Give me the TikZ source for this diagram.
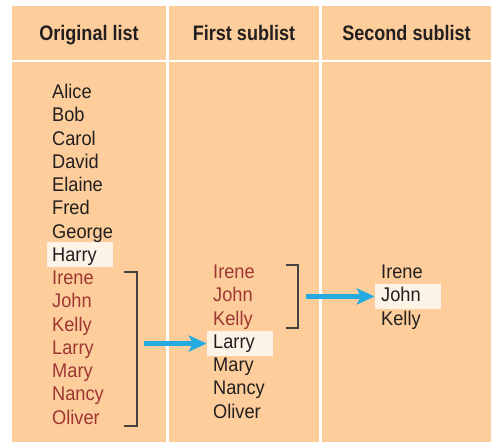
\documentclass[tikz,border=0pt]{standalone}
\usepackage{fontspec}
\usetikzlibrary{arrows.meta}
\newfontfamily\namefont[FakeStretch=0.92]{Liberation Sans}
\newfontfamily\headfont[FakeStretch=0.86]{Liberation Sans Bold}
\definecolor{peach}{RGB}{253,206,155}
\definecolor{hilite}{RGB}{253,243,231}
\definecolor{redtxt}{RGB}{158,54,52}
\definecolor{darktxt}{RGB}{35,31,32}
\definecolor{arrowblue}{RGB}{39,170,225}
\tikzset{
  cellfill/.style={fill=peach,draw=none},
  hdrtext/.style={font=\headfont\fontsize{21}{24}\selectfont,text=darktxt,anchor=base,inner sep=0pt},
  itemtext/.style={font=\namefont\fontsize{19.8}{23}\selectfont,text=darktxt,anchor=base west,inner sep=0pt},
  reditem/.style={itemtext,text=redtxt},
  hlbox/.style={fill=hilite,draw=none,minimum width=66pt,minimum height=25pt,inner sep=0pt},
  brack/.style={draw=darktxt!85,line width=1.3pt},
  bluearrow/.style={draw=arrowblue,line width=5pt,-{Stealth[length=18pt,width=16pt,inset=4pt]}}
}
\begin{document}
\begin{tikzpicture}[x=1pt,y=-1pt]
\useasboundingbox (0,0) rectangle (491,442);
% cells
\fill[white] (0,0) rectangle (491,442);
\path[cellfill] (12,6) rectangle (166,60);
\path[cellfill] (169,6) rectangle (319,60);
\path[cellfill] (322,6) rectangle (491,60);
\path[cellfill] (12,62) rectangle (166,442);
\path[cellfill] (169,62) rectangle (319,442);
\path[cellfill] (322,62) rectangle (491,442);
% headers
\node[hdrtext] (h1) at (89,40.7) {Original list};
\node[hdrtext] (h2) at (244,40.7) {First sublist};
\node[hdrtext] (h3) at (406.5,40.7) {Second sublist};
% highlight boxes
\node[hlbox] (bHarry) at (80,254.5) {};
\node[hlbox] (bLarry) at (240,343.5) {};
\node[hlbox] (bJohn) at (408,296.5) {};
% original list
\node[itemtext] (o1) at (52,98.5) {Alice};
\node[itemtext] (o2) at (52,121.75) {Bob};
\node[itemtext] (o3) at (52,145) {Carol};
\node[itemtext] (o4) at (52,168.25) {David};
\node[itemtext] (o5) at (52,191.5) {Elaine};
\node[itemtext] (o6) at (52,214.75) {Fred};
\node[itemtext] (o7) at (52,238) {George};
\node[itemtext] (o8) at (52,261.25) {Harry};
\node[reditem] (o9) at (52,284.5) {Irene};
\node[reditem] (o10) at (52,307.75) {John};
\node[reditem] (o11) at (52,331) {Kelly};
\node[reditem] (o12) at (52,354.25) {Larry};
\node[reditem] (o13) at (52,377.5) {Mary};
\node[reditem] (o14) at (52,400.75) {Nancy};
\node[reditem] (o15) at (52,424) {Oliver};
% first sublist
\node[reditem] (f1) at (213,278.5) {Irene};
\node[reditem] (f2) at (213,301.75) {John};
\node[reditem] (f3) at (213,325) {Kelly};
\node[itemtext] (f4) at (213,348.25) {Larry};
\node[itemtext] (f5) at (213,371.5) {Mary};
\node[itemtext] (f6) at (213,394.75) {Nancy};
\node[itemtext] (f7) at (213,418) {Oliver};
% second sublist
\node[itemtext] (s1) at (381,278.5) {Irene};
\node[itemtext] (s2) at (381,301.75) {John};
\node[itemtext] (s3) at (381,325) {Kelly};
% brackets
\draw[brack] (124,272) -- (137,272) -- (137,426) -- (124,426);
\draw[brack] (286,265) -- (298,265) -- (298,328) -- (286,328);
% arrows
\coordinate (a1) at (144,343.5);
\coordinate (a2) at (306,296.5);
\draw[bluearrow] (a1) -- (bLarry.west);
\draw[bluearrow] (a2) -- (bJohn.west);
\end{tikzpicture}
\end{document}
